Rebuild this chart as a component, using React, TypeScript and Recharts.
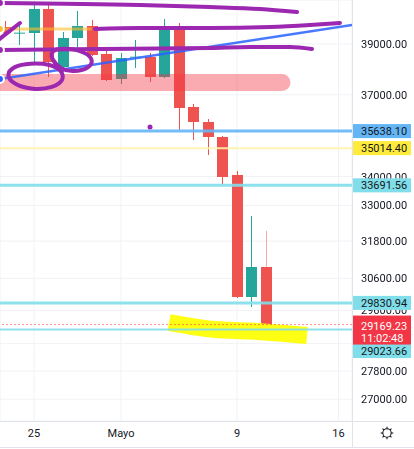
import { Bar, CartesianGrid, ComposedChart, Line, ReferenceDot, ReferenceLine, XAxis, YAxis } from "recharts";

// daily candles, Apr 23 .. May 11 (index 0 = Apr 23)
const dayIndex = [0, 1, 2, 3, 4, 5, 6, 7, 8, 9, 10, 11, 12, 13, 14, 15, 16, 17, 18];
const opens = [39693, 39430, 39447, 40439, 38082, 39243, 39734, 38598, 37612, 38460, 38479, 37690, 39610, 36538, 35975, 35421, 34054, 30014, 30960];
const highs = [39940, 39857, 40607, 40733, 39488, 40355, 39981, 38759, 38638, 39162, 38638, 40023, 39857, 36651, 36087, 35457, 34195, 32639, 32136];
const lows = [39400, 38960, 38240, 37690, 37886, 38839, 38518, 37534, 37418, 38043, 37496, 37651, 35678, 35311, 34767, 33703, 29983, 29704, 29066];
const closes = [39447, 39460, 40439, 38280, 39243, 39734, 38558, 37573, 38439, 38490, 37690, 39610, 36500, 35975, 35421, 33984, 30014, 30960, 29169.23];

const xTicks = [2, 8, 16, 23];
const xTickLabels = ["25", "Mayo", "9", "16"];
const priceTicks = [39000, 37000, 34000, 33000, 31800, 30600, 29600, 28600, 27800, 27000];

const levelPrices = [35638.1, 35014.4, 33691.56, 29830.94, 29023.66];
const lastPrice = 29169.23;
const countdown = "11:02:48";

// hand drawings, [day index, price]
const strokeTop: [number, number][] = [[-0.35, 40691], [9.31, 40607], [14.14, 40523], [17.59, 40439], [20.14, 40314]];
const strokeMid: [number, number][] = [[6.21, 39610], [9.31, 39651], [14.14, 39651], [18.28, 39693], [21.03, 39775], [23.1, 39857]];
const strokeLow: [number, number][] = [[-0.35, 38759], [6.55, 38799], [14.14, 38839], [16.9, 38879], [19.66, 38879], [21.17, 38799]];
const strokeSlash: [number, number][] = [[-0.6, 39100], [1.03, 39857]];
const goldLine: [number, number][] = [[-0.35, 39610], [5.97, 39610]];
const trendLine: [number, number][] = [[-0.35, 37612], [23.93, 39775]];
const loopLeft: [number, number][] = [[0.06, 37772], [0.58, 38114], [1.7, 38240], [3.19, 38197], [3.93, 37941], [4.08, 37562], [3.34, 37271], [1.92, 37187], [0.58, 37395]];
const loopRight: [number, number][] = [[3.13, 38791], [4.47, 38835], [5.59, 38662], [6.11, 38359], [5.81, 38019], [4.7, 37890], [3.88, 37976], [3.21, 38359]];
const pinkZone: [number, number][] = [[-0.9, 37476], [19.1, 37476]];
const yellowMark: [number, number][] = [[11.31, 29232], [14.48, 29020], [16.9, 28975], [20.83, 28840]];
const dotMark: [number, number] = [10.0, 35789];

const xDomain: [number, number] = [-0.345, 23.93];
const yDomain: [number, number] = [26398, 40817];

const FONT = "Roboto, 'Liberation Sans', sans-serif";
const TEXT = "#131722";
const levelStyles = [
  { line: "#64b5f6", width: 3, bg: "#64b5f6" },
  { line: "#fff3a8", width: 2, bg: "#ffeb3b" },
  { line: "#80deea", width: 3, bg: "#80deea" },
  { line: "#80deea", width: 3, bg: "#80deea" },
  { line: "#80deea", width: 2, bg: "#80deea" },
];

const pts = (list: [number, number][]) => list.map(([i, p]) => ({ i, p }));

// pixels per log unit of the price scale; only used to keep tags apart
const pxPerLog = 421 / Math.log(yDomain[1] / yDomain[0]);
const gap = (a: number, b: number) => Math.log(a / b) * pxPerLog; // how far b sits below a

// vertical centre of a level tag, relative to the level's own line
function tagOffset(price: number) {
  const d = gap(lastPrice, price);
  return price < lastPrice && d < 26 ? 26.5 - d : 0;
}

// tag boxes (top, bottom) in pixels, given a reference price at pixel y
function tagBoxes(refPrice: number, y: number): [number, number][] {
  const boxes: [number, number][] = levelPrices.map((p) => {
    const cy = y + gap(refPrice, p) + tagOffset(p);
    return [cy - 7, cy + 7];
  });
  const ly = y + gap(refPrice, lastPrice);
  boxes.push([ly - 9, ly + 20]);
  return boxes;
}

function covered(top: number, bottom: number, boxes: [number, number][]) {
  let y = top;
  const sorted = [...boxes].sort((a, b) => a[0] - b[0]);
  for (const [t, b] of sorted) if (t <= y && b > y) y = b;
  return y >= bottom;
}

function Candle(props: any) {
  const { x, y, width, height, payload, index } = props;
  const { open, close, high, low } = payload;
  const span = Math.log(high) - Math.log(low);
  const at = (v: number) => y + (span > 0 ? ((Math.log(high) - Math.log(v)) / span) * height : 0);
  const color = close >= open ? "#26a69a" : "#ef5350";
  const top = at(Math.max(open, close));
  const bottom = at(Math.min(open, close));
  const cx = Math.round(x + width / 2) + 0.5;
  return <g>
    <line x1={cx} x2={cx} y1={y} y2={y + height} stroke={color} strokeOpacity={index === dayIndex.length - 1 ? 0.5 : 1} />
    <rect x={cx - 5.5} y={top} width={11} height={Math.max(1, bottom - top)} fill={color} />
  </g>;
}

function XTick({ x, payload }: any) {
  const k = xTicks.indexOf(payload.value);
  return <text x={x} y={437} textAnchor="middle" fontSize={11} fill={TEXT} fontFamily={FONT}>{xTickLabels[k]}</text>;
}

function YTick({ y, payload }: any) {
  const v = Number(payload.value);
  const boxes = tagBoxes(v, y);
  if (covered(y - 5, y + 4, boxes)) return <g />;
  const id = `tick-mask-${v}`;
  return <g>
    <defs>
      <mask id={id} maskUnits="userSpaceOnUse" x={340} y={y - 12} width={80} height={24}>
        <rect x={340} y={y - 12} width={80} height={24} fill="#fff" />
        {boxes.map(([t, b], k) => <rect key={k} x={340} y={t} width={80} height={b - t} fill="#000" />)}
      </mask>
    </defs>
    <text x={361} y={y + 4} fontSize={11} fill={TEXT} fontFamily={FONT} mask={`url(#${id})`}>{v.toFixed(2)}</text>
  </g>;
}

function levelTag(k: number) {
  return (props: any) => {
    const price = levelPrices[k];
    const cy = (props.viewBox?.y ?? 0) + tagOffset(price);
    return <g>
      <rect x={352} y={cy - 7} width={59} height={14} fill={levelStyles[k].bg} />
      <text x={361} y={cy + 4} fontSize={11} fill={TEXT} fontFamily={FONT}>{price.toFixed(2)}</text>
    </g>;
  };
}

function lastTag(props: any) {
  const cy = props.viewBox?.y ?? 0;
  return <g>
    <rect x={352} y={cy - 9} width={59} height={29} fill="#f23645" />
    <text x={361} y={cy + 5} fontSize={11} fill="#fff" fontFamily={FONT}>{lastPrice.toFixed(2)}</text>
    <text x={361} y={cy + 17} fontSize={11} fill="#fff" fontFamily={FONT}>{countdown}</text>
  </g>;
}

export default function App() {
  const rows = dayIndex.map((i, k) => ({ i, open: opens[k], high: highs[k], low: lows[k], close: closes[k] }));
  const purple = "#9c27b0";
  return <div style={{ position: "relative", width: 414, height: 449, background: "#fff" }}>
    <style>{"body{margin:0}"}</style>
    <ComposedChart width={414} height={449} data={rows} margin={{ top: 0, right: 0, bottom: 0, left: 0 }}>
      <CartesianGrid stroke="#f0f2f5" />
      <XAxis dataKey="i" type="number" domain={xDomain} allowDataOverflow ticks={xTicks} interval={0} height={28} axisLine={false} tickLine={false} tick={XTick} />
      <YAxis type="number" scale="log" orientation="right" width={62} domain={yDomain} allowDataOverflow ticks={priceTicks} interval={0} axisLine={false} tickLine={false} tick={YTick} />
      <Bar dataKey={(d: any) => [d.low, d.high]} barSize={11} shape={Candle} isAnimationActive={false} />
      <Line data={pts(yellowMark)} dataKey="p" type="monotone" stroke="#ffff00" strokeWidth={17} strokeOpacity={0.92} dot={false} isAnimationActive={false} />
      <Line data={pts(pinkZone)} dataKey="p" type="linear" stroke="#f23645" strokeWidth={17} strokeOpacity={0.42} strokeLinecap="round" dot={false} isAnimationActive={false} />
      <Line data={pts(goldLine)} dataKey="p" type="linear" stroke="#fbc02d" strokeWidth={3} strokeOpacity={0.6} dot={false} isAnimationActive={false} />
      <Line data={pts(trendLine)} dataKey="p" type="linear" stroke="#2962ff" strokeWidth={2.5} strokeOpacity={0.85} dot={false} isAnimationActive={false} />
      <Line data={pts(strokeTop)} dataKey="p" type="monotone" stroke={purple} strokeWidth={4} strokeLinecap="round" dot={false} isAnimationActive={false} />
      <Line data={pts(strokeMid)} dataKey="p" type="monotone" stroke={purple} strokeWidth={4} strokeLinecap="round" dot={false} isAnimationActive={false} />
      <Line data={pts(strokeLow)} dataKey="p" type="monotone" stroke={purple} strokeWidth={4} strokeLinecap="round" dot={false} isAnimationActive={false} />
      <Line data={pts(strokeSlash)} dataKey="p" type="linear" stroke={purple} strokeWidth={4} strokeLinecap="round" dot={false} isAnimationActive={false} />
      <Line data={pts(loopLeft)} dataKey="p" type="basisClosed" stroke={purple} strokeWidth={4} dot={false} isAnimationActive={false} />
      <Line data={pts(loopRight)} dataKey="p" type="basisClosed" stroke={purple} strokeWidth={4} dot={false} isAnimationActive={false} />
      <ReferenceDot x={dotMark[0]} y={dotMark[1]} r={2.5} fill={purple} stroke="none" />
      {levelPrices.map((price, k) => <ReferenceLine key={price} y={price} stroke={levelStyles[k].line} strokeWidth={levelStyles[k].width} strokeOpacity={0.9} label={levelTag(k)} />)}
      <ReferenceLine y={lastPrice} stroke="#f23645" strokeOpacity={0.55} strokeDasharray="2 2" label={lastTag} />
    </ComposedChart>
    <svg width={414} height={449} style={{ position: "absolute", left: 0, top: 0, pointerEvents: "none" }}>
      <line x1={352.5} x2={352.5} y1={0} y2={448} stroke="#e0e3eb" />
      <line x1={0} x2={414} y1={421.5} y2={421.5} stroke="#e0e3eb" />
      <line x1={0} x2={414} y1={447.5} y2={447.5} stroke="#e0e3eb" />
      <g transform="translate(387,433)" stroke={TEXT} strokeWidth={1.1} fill="none">
        <circle r={4.2} />
        {[0, 45, 90, 135, 180, 225, 270, 315].map((a) => <line key={a} x1={0} y1={-4.2} x2={0} y2={-6.3} transform={`rotate(${a})`} />)}
      </g>
    </svg>
  </div>;
}
